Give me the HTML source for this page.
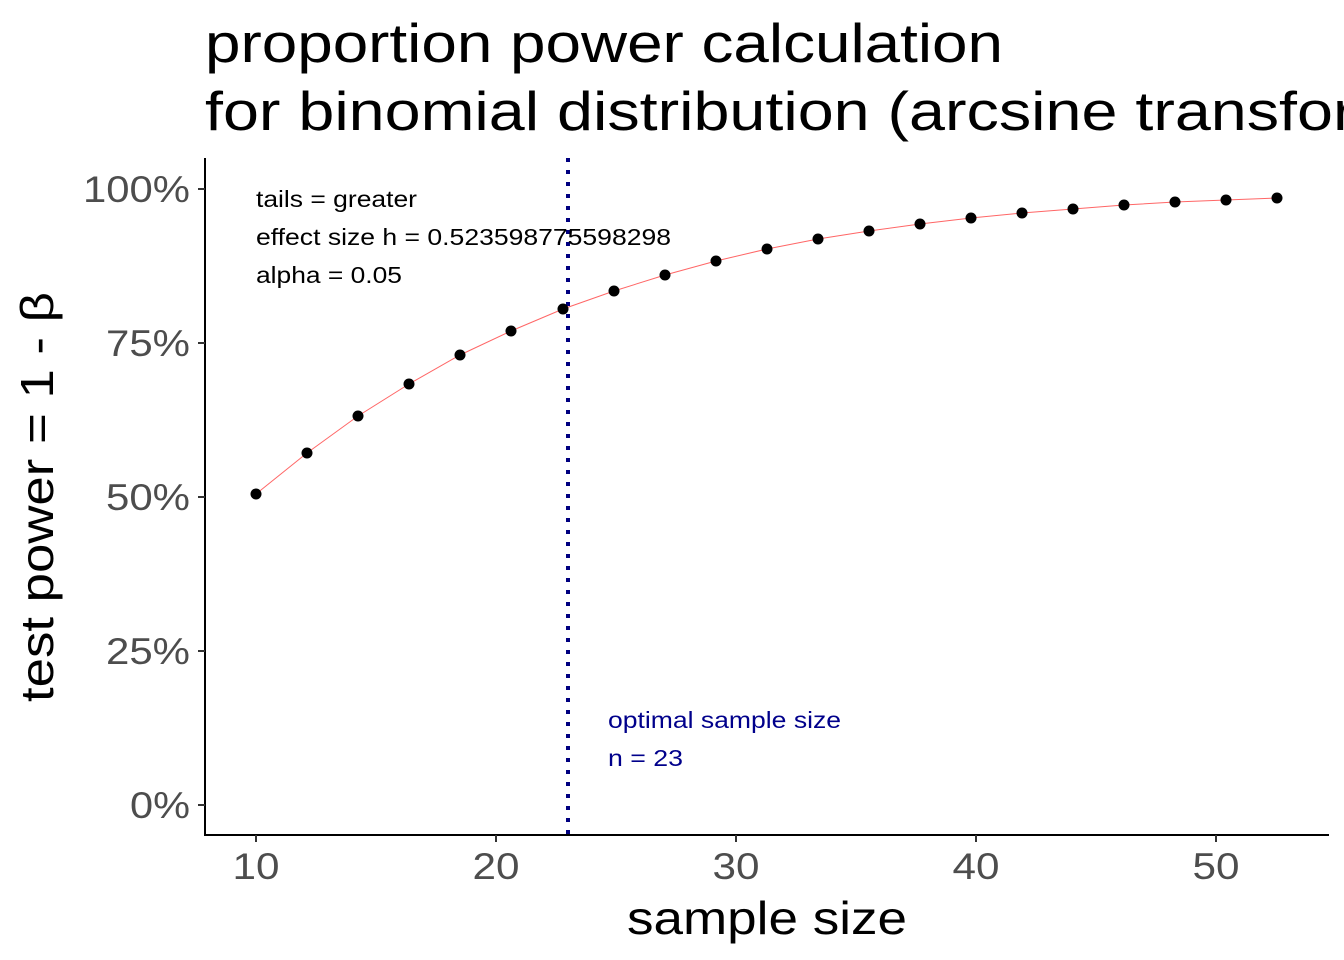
<!DOCTYPE html>
<html><head><meta charset="utf-8"><style>
html,body{margin:0;padding:0;background:#fff;}
svg{display:block;font-family:"Liberation Sans",Arial,sans-serif;}
</style></head><body>
<svg width="1344" height="960" viewBox="0 0 1344 960" xmlns="http://www.w3.org/2000/svg">
<rect width="1344" height="960" fill="#fff"/>
<text x="205" y="62" font-size="55" fill="#000" textLength="798" lengthAdjust="spacingAndGlyphs">proportion power calculation</text>
<text x="205" y="130" font-size="55" fill="#000" textLength="1365" lengthAdjust="spacingAndGlyphs">for binomial distribution (arcsine transformation)</text>
<line x1="205" y1="158" x2="205" y2="836" stroke="#000" stroke-width="2"/>
<line x1="204" y1="835" x2="1329" y2="835" stroke="#000" stroke-width="2"/>
<g stroke="#333" stroke-width="2">
<line x1="198" y1="189" x2="205" y2="189"/>
<line x1="198" y1="343" x2="205" y2="343"/>
<line x1="198" y1="497" x2="205" y2="497"/>
<line x1="198" y1="651" x2="205" y2="651"/>
<line x1="198" y1="805" x2="205" y2="805"/>
<line x1="256" y1="835" x2="256" y2="842"/>
<line x1="496" y1="835" x2="496" y2="842"/>
<line x1="736" y1="835" x2="736" y2="842"/>
<line x1="976" y1="835" x2="976" y2="842"/>
<line x1="1216" y1="835" x2="1216" y2="842"/>
</g>
<g font-size="37" fill="#4d4d4d" text-anchor="end">
<text x="190" y="202" textLength="107" lengthAdjust="spacingAndGlyphs">100%</text>
<text x="190" y="356" textLength="84" lengthAdjust="spacingAndGlyphs">75%</text>
<text x="190" y="510" textLength="84" lengthAdjust="spacingAndGlyphs">50%</text>
<text x="190" y="664" textLength="84" lengthAdjust="spacingAndGlyphs">25%</text>
<text x="190" y="818" textLength="60" lengthAdjust="spacingAndGlyphs">0%</text>
</g>
<g font-size="37" fill="#4d4d4d" text-anchor="middle">
<text x="256" y="879" textLength="47" lengthAdjust="spacingAndGlyphs">10</text>
<text x="496" y="879" textLength="47" lengthAdjust="spacingAndGlyphs">20</text>
<text x="736" y="879" textLength="47" lengthAdjust="spacingAndGlyphs">30</text>
<text x="976" y="879" textLength="47" lengthAdjust="spacingAndGlyphs">40</text>
<text x="1216" y="879" textLength="47" lengthAdjust="spacingAndGlyphs">50</text>
</g>
<text x="767" y="934" font-size="46" text-anchor="middle" fill="#000" textLength="280" lengthAdjust="spacingAndGlyphs">sample size</text>
<text transform="translate(53,497) rotate(-90)" font-size="46" text-anchor="middle" fill="#000" textLength="410" lengthAdjust="spacingAndGlyphs">test power = 1 - β</text>
<line x1="568" y1="158" x2="568" y2="835" stroke="#000080" stroke-width="4" stroke-dasharray="4,8"/>
<polyline fill="none" stroke="#ff6666" stroke-width="1" points="256,494 307,453 358,416 409,384 460,355 511,331 563,309 614,291 665,275 716,261 767,249 818,239 869,231 920,224 971,218 1022,213 1073,209 1124,205 1175,202 1226,200 1277,198"/>
<g fill="#000">
<circle cx="256" cy="494" r="5.5"/><circle cx="307" cy="453" r="5.5"/><circle cx="358" cy="416" r="5.5"/><circle cx="409" cy="384" r="5.5"/><circle cx="460" cy="355" r="5.5"/><circle cx="511" cy="331" r="5.5"/><circle cx="563" cy="309" r="5.5"/><circle cx="614" cy="291" r="5.5"/><circle cx="665" cy="275" r="5.5"/><circle cx="716" cy="261" r="5.5"/><circle cx="767" cy="249" r="5.5"/><circle cx="818" cy="239" r="5.5"/><circle cx="869" cy="231" r="5.5"/><circle cx="920" cy="224" r="5.5"/><circle cx="971" cy="218" r="5.5"/><circle cx="1022" cy="213" r="5.5"/><circle cx="1073" cy="209" r="5.5"/><circle cx="1124" cy="205" r="5.5"/><circle cx="1175" cy="202" r="5.5"/><circle cx="1226" cy="200" r="5.5"/><circle cx="1277" cy="198" r="5.5"/>
</g>
<g font-size="23" fill="#000">
<text x="256" y="207" textLength="161" lengthAdjust="spacingAndGlyphs">tails = greater</text>
<text x="256" y="245" textLength="415" lengthAdjust="spacingAndGlyphs">effect size h = 0.523598775598298</text>
<text x="256" y="283" textLength="146" lengthAdjust="spacingAndGlyphs">alpha = 0.05</text>
</g>
<g font-size="23" fill="#00008b">
<text x="608" y="728" textLength="233" lengthAdjust="spacingAndGlyphs">optimal sample size</text>
<text x="608" y="766" textLength="75" lengthAdjust="spacingAndGlyphs">n = 23</text>
</g>
</svg>
</body></html>
